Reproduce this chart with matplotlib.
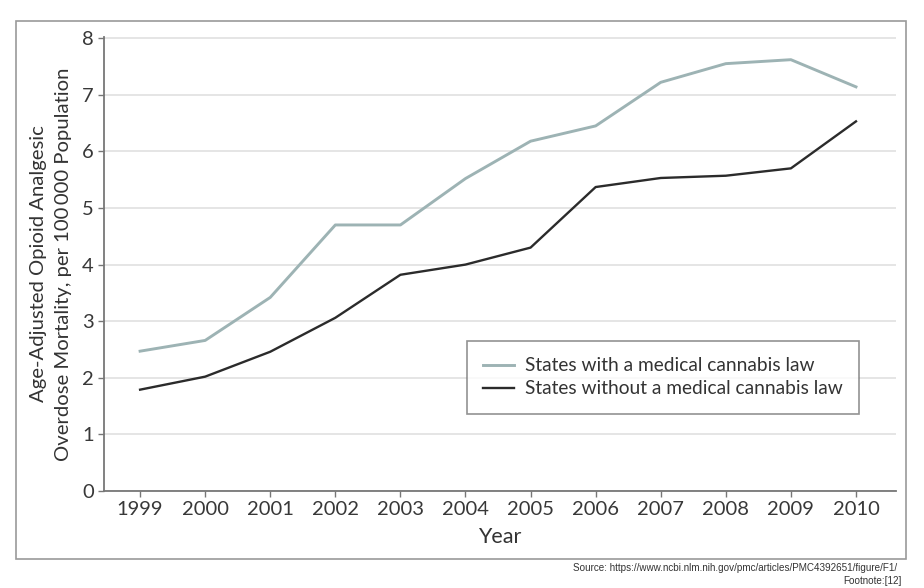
import matplotlib.pyplot as plt
from matplotlib.patches import Rectangle

plt.rcParams['font.family'] = ['Lato', 'DejaVu Sans']

years = [1999, 2000, 2001, 2002, 2003, 2004, 2005, 2006, 2007, 2008, 2009, 2010]
with_law = [2.47, 2.66, 3.42, 4.70, 4.70, 5.52, 6.18, 6.45, 7.22, 7.55, 7.62, 7.14]
without_law = [1.79, 2.02, 2.46, 3.06, 3.82, 4.00, 4.30, 5.37, 5.53, 5.57, 5.70, 6.53]
yticks = [0, 1, 2, 3, 4, 5, 6, 7, 8]

fig = plt.figure(figsize=(9.24, 5.88), dpi=100)
ax = fig.add_axes([0.1126, 0.165, 0.8571, 0.772])

# outer frame around the figure
fig.patches.append(Rectangle((0.0173, 0.0493), 0.9632, 0.915, transform=fig.transFigure,
                             fill=False, edgecolor='#9a9a9a', linewidth=1.2))

ax.plot(years, with_law, color='#9db3b4', lw=2.1, label='States with a medical cannabis law')
ax.plot(years, without_law, color='#2b2b2b', lw=1.7, label='States without a medical cannabis law')

ax.set_xlim(1998.446, 2010.615)
ax.set_ylim(0, 8.02)
ax.set_xticks(years)
ax.set_yticks(yticks)
ax.grid(axis='y', color='#e3e3e3', lw=1.3)
ax.set_axisbelow(True)

for s in ['top', 'right']:
    ax.spines[s].set_visible(False)
for s in ['left', 'bottom']:
    ax.spines[s].set_color('#777777')
    ax.spines[s].set_linewidth(1.3)
ax.tick_params(colors='#777777', length=4, width=1, labelsize=14.5, labelcolor='#383838')

ax.set_xlabel('Year', fontsize=15.5, color='#333333', labelpad=6)
ax.set_ylabel('Age-Adjusted Opioid Analgesic\nOverdose Mortality, per 100\u2009000 Population',
              fontsize=14.6, color='#333333', labelpad=7, linespacing=1.55)

leg = ax.legend(loc='upper left', bbox_to_anchor=(0.458, 0.330), fontsize=13.8,
                frameon=True, fancybox=False, handlelength=1.6, handletextpad=0.6,
                borderpad=0.85, labelspacing=0.3, borderaxespad=0)
leg.get_frame().set_edgecolor('#777777')
leg.get_frame().set_linewidth(1.2)
for t in leg.get_texts():
    t.set_color('#333333')

fig.text(0.971, 0.034, 'Source: https://www.ncbi.nlm.nih.gov/pmc/articles/PMC4392651/figure/F1/',
         ha='right', va='center', fontsize=7.1, color='#333333', family=['Liberation Sans', 'DejaVu Sans'])
fig.text(0.976, 0.012, 'Footnote:[12]', ha='right', va='center', fontsize=7.1,
         color='#333333', family=['Liberation Sans', 'DejaVu Sans'])

fig.savefig('out.png', dpi=100)
